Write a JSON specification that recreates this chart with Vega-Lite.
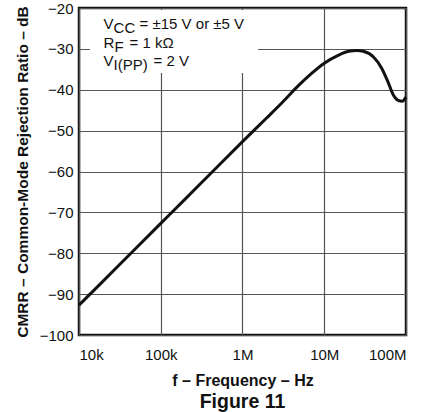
{
  "$schema": "https://vega.github.io/schema/vega-lite/v6.json",
  "width": 327,
  "height": 327,
  "autosize": {"type": "none"},
  "padding": {"left": 79, "top": 8, "right": 27, "bottom": 77},
  "background": "white",
  "config": {
    "font": "Liberation Sans",
    "view": {"stroke": "#111111", "strokeWidth": 2.5},
    "text": {"font": "Liberation Sans", "fontSize": 15, "color": "#111111", "align": "left", "baseline": "alphabetic"}
  },
  "title": {"text": "Figure 11", "orient": "bottom", "fontSize": 19.5, "fontWeight": "bold", "font": "Liberation Sans", "color": "#111111", "offset": 5},
  "datasets": {
    "cmrr": [
      {"f": 10000, "db": -92.7},
      {"f": 20000, "db": -86.7},
      {"f": 50000, "db": -78.7},
      {"f": 100000, "db": -72.7},
      {"f": 200000, "db": -66.7},
      {"f": 500000, "db": -58.7},
      {"f": 1000000, "db": -52.7},
      {"f": 2000000, "db": -46.8},
      {"f": 3000000, "db": -43.3},
      {"f": 5000000, "db": -38.7},
      {"f": 7000000, "db": -36.0},
      {"f": 10000000, "db": -33.5},
      {"f": 15000000, "db": -31.5},
      {"f": 20000000, "db": -30.6},
      {"f": 25000000, "db": -30.4},
      {"f": 30000000, "db": -30.6},
      {"f": 40000000, "db": -32.0},
      {"f": 50000000, "db": -34.6},
      {"f": 60000000, "db": -38.0},
      {"f": 70000000, "db": -41.3},
      {"f": 80000000, "db": -42.6},
      {"f": 90000000, "db": -42.8},
      {"f": 100000000, "db": -41.8}
    ],
    "one": [{}]
  },
  "layer": [
    {
      "data": {"name": "cmrr"},
      "mark": {"type": "line", "color": "#111111", "strokeWidth": 3, "interpolate": "monotone"},
      "encoding": {
        "x": {
          "field": "f", "type": "quantitative",
          "scale": {"type": "log", "domain": [10000, 100000000]},
          "axis": {
            "values": [10000, 100000, 1000000, 10000000, 100000000],
            "labelExpr": "datum.value == 10000 ? '10k' : datum.value == 100000 ? '100k' : datum.value == 1000000 ? '1M' : datum.value == 10000000 ? '10M' : '100M'",
            "grid": true, "gridColor": "#555555", "gridWidth": 1.2,
            "ticks": false, "domain": false,
            "labelFontSize": 15, "labelColor": "#111111", "labelPadding": 12,
            "title": "f – Frequency – Hz", "titleFontSize": 16, "titleFontWeight": "bold", "titleColor": "#111111", "titlePadding": 10
          }
        },
        "y": {
          "field": "db", "type": "quantitative",
          "scale": {"domain": [-100, -20]},
          "axis": {
            "values": [-100, -90, -80, -70, -60, -50, -40, -30, -20],
            "grid": true, "gridColor": "#555555", "gridWidth": 1.2,
            "ticks": false, "domain": false,
            "labelFontSize": 15, "labelColor": "#111111", "labelPadding": 6,
            "title": "CMRR – Common-Mode Rejection Ratio – dB", "titleFontSize": 15.5, "titleFontWeight": "bold", "titleColor": "#111111", "titlePadding": 9
          }
        }
      }
    },
    {
      "data": {"name": "one"},
      "mark": {"type": "rect", "fill": "white"},
      "encoding": {"x": {"datum": 13600}, "x2": {"datum": 1550000}, "y": {"datum": -35.9}, "y2": {"datum": -20.5}}
    },
    {"data": {"name": "one"}, "mark": {"type": "text", "text": "V"}, "encoding": {"x": {"datum": 20000}, "y": {"datum": -25.2}}},
    {"data": {"name": "one"}, "mark": {"type": "text", "text": "CC", "dx": 10, "dy": 4}, "encoding": {"x": {"datum": 20000}, "y": {"datum": -25.2}}},
    {"data": {"name": "one"}, "mark": {"type": "text", "text": "= ±15 V or ±5 V", "dx": 36}, "encoding": {"x": {"datum": 20000}, "y": {"datum": -25.2}}},
    {"data": {"name": "one"}, "mark": {"type": "text", "text": "R"}, "encoding": {"x": {"datum": 20000}, "y": {"datum": -29.86}}},
    {"data": {"name": "one"}, "mark": {"type": "text", "text": "F", "dx": 11, "dy": 4}, "encoding": {"x": {"datum": 20000}, "y": {"datum": -29.86}}},
    {"data": {"name": "one"}, "mark": {"type": "text", "text": "= 1 kΩ", "dx": 26}, "encoding": {"x": {"datum": 20000}, "y": {"datum": -29.86}}},
    {"data": {"name": "one"}, "mark": {"type": "text", "text": "V"}, "encoding": {"x": {"datum": 20000}, "y": {"datum": -34.17}}},
    {"data": {"name": "one"}, "mark": {"type": "text", "text": "I(PP)", "dx": 10, "dy": 4}, "encoding": {"x": {"datum": 20000}, "y": {"datum": -34.17}}},
    {"data": {"name": "one"}, "mark": {"type": "text", "text": "= 2 V", "dx": 50}, "encoding": {"x": {"datum": 20000}, "y": {"datum": -34.17}}}
  ]
}
